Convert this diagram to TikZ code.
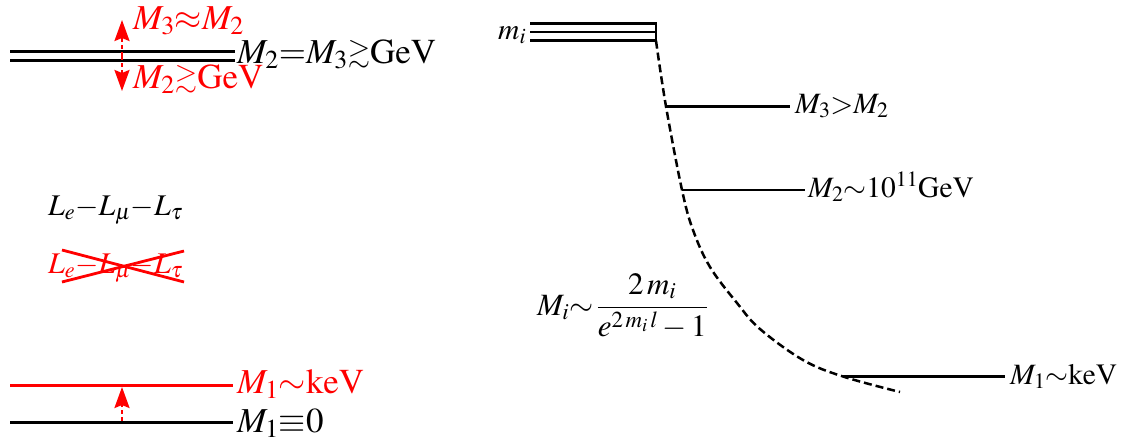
\documentclass[tikz,border=0pt]{standalone}
\usepackage{mathptmx}
\usepackage{amssymb}
\usepackage{graphicx}
\usetikzlibrary{arrows.meta}
\newcommand{\gsimx}{\mathrel{\raisebox{0.04em}{\scalebox{0.82}{$\gtrsim$}}}}
\tikzset{
  lvl/.style={line width=3pt},
  rlvl/.style={line width=2.5pt},
  big/.style={font=\fontsize{35}{40}\selectfont, inner sep=0pt, anchor=base west},
  sym/.style={font=\fontsize{30}{36}\selectfont, inner sep=0pt, anchor=base west},
  small/.style={font=\fontsize{29.5}{34}\selectfont, inner sep=0pt, anchor=base west},
  shiftarrow/.style={red, line width=2.4pt, dash pattern=on 4pt off 3pt, -{Stealth[length=21pt,width=15pt,inset=3pt]}},
  curvedash/.style={line width=2.5pt, dash pattern=on 8pt off 4pt},
}
\begin{document}
\begin{tikzpicture}[x=1pt,y=-1pt]
\useasboundingbox (0,0) rectangle (1122,437);
% ---- left: heavy levels
\coordinate (a1) at (10,51.5); \coordinate (a2) at (235,51.5);
\coordinate (b1) at (10,60); \coordinate (b2) at (235,60);
\draw[lvl] (a1) -- (a2);
\draw[lvl] (b1) -- (b2);
\coordinate (mid) at (122,56);
\coordinate (up) at (122,20);
\coordinate (dn) at (122,91);
\draw[shiftarrow] (mid) -- (up);
\draw[shiftarrow] (mid) -- (dn);
\node[big, red] (t1) at (133,29) {$M_3{\approx}M_2$};
\node[big] (t2) at (237,63) {$M_2{=}M_3{\gsimx}\mathrm{GeV}$};
\node[big, red] (t3) at (133,88) {$M_2{\gsimx}\mathrm{GeV}$};
% ---- symmetry
\node[sym] (s1) at (48,215) {$L_e{-}L_\mu{-}L_\tau$};
\node[sym, red] (s2) at (48,273) {$L_e{-}L_\mu{-}L_\tau$};
\coordinate (x1) at (62,250); \coordinate (x2) at (184,282);
\coordinate (x3) at (62,282); \coordinate (x4) at (184,251);
\draw[red, line width=2.8pt] (x1) -- (x2);
\draw[red, line width=2.8pt] (x3) -- (x4);
% ---- light level
\coordinate (r1) at (10,385); \coordinate (r2) at (233,385);
\coordinate (k1) at (10,422); \coordinate (k2) at (233,422);
\draw[lvl, red] (r1) -- (r2);
\draw[lvl] (k1) -- (k2);
\coordinate (lo) at (122,421);
\coordinate (hi) at (122,387);
\draw[shiftarrow] (lo) -- (hi);
\node[big, red] (t4) at (237,393) {$M_1{\sim}\mathrm{keV}$};
\node[big] (t5) at (237,432) {$M_1{\equiv}0$};
% ---- right panel
\coordinate (m1) at (530,23.3); \coordinate (m2) at (656,23.3);
\coordinate (m3) at (530,32); \coordinate (m4) at (656,32);
\coordinate (m5) at (530,40.7); \coordinate (m6) at (656,40.7);
\draw[rlvl] (m1) -- (m2) -- (m6) -- (m5);
\draw[rlvl] (m3) -- (m4);
\node[small] (mi) at (498,39) {$m_i$};
\draw[curvedash] plot[smooth, tension=0.6] coordinates {(656,40.7) (666,106.5) (682,190) (693,230) (710,267) (737,303) (760,329) (803,360) (843,376.5) (900,392)};
\coordinate (p3a) at (666,106.5); \coordinate (p3b) at (790,106.5);
\coordinate (p2a) at (682,190); \coordinate (p2b) at (805,190);
\coordinate (p1a) at (843,376.5); \coordinate (p1b) at (1005,376.5);
\draw[rlvl] (p3a) -- (p3b);
\draw[rlvl] (p2a) -- (p2b);
\draw[rlvl] (p1a) -- (p1b);
\node[small] (u3) at (795,113) {$M_3{>}M_2$};
\node[small] (u2) at (808,197) {$M_2{\sim}10^{11}\mathrm{GeV}$};
\node[small] (u1) at (1010,384) {$M_1{\sim}\mathrm{keV}$};
\node[small, font=\fontsize{31}{36}\selectfont] (f) at (537,315) {$M_i{\sim}\,\displaystyle\frac{2\,m_i}{e^{2\,m_i\,l}-1}$};
\end{tikzpicture}
\end{document}
